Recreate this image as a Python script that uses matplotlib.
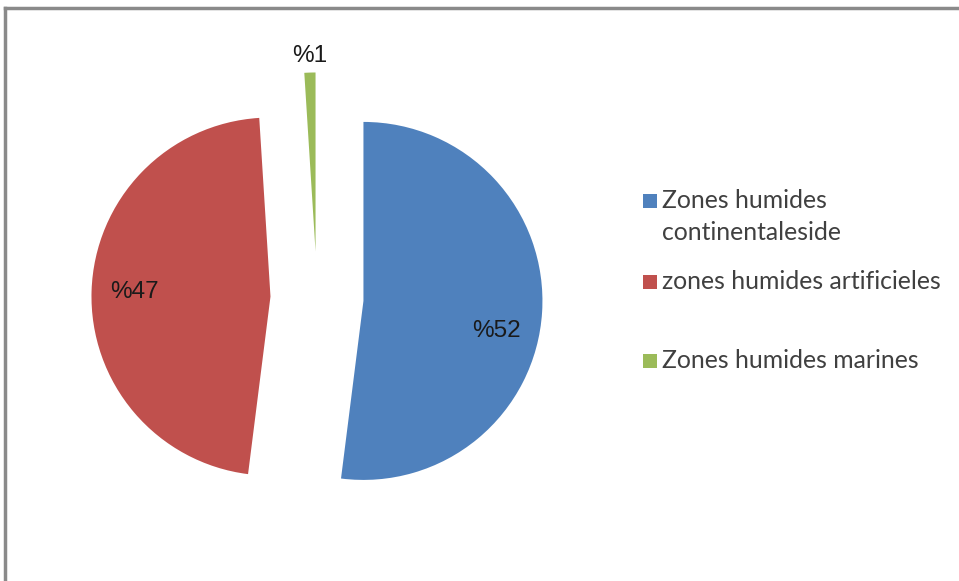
import matplotlib
matplotlib.use("Agg")
import matplotlib.pyplot as plt
from matplotlib.patches import Rectangle
import numpy as np

categories = ["Zones humides\ncontinentaleside", "zones humides artificieles", "Zones humides marines"]
values = [52, 47, 1]
pct_labels = ["%52", "%47", "%1"]
colors = ["#4F81BD", "#C0504D", "#9BBB59"]

W, H = 959, 581
fig = plt.figure(figsize=(W / 100, H / 100), dpi=100)

# pie axes: centre at pixel (317, 298), radius 179 px
cx, cy, R = 317, 298, 179
hw, hh = 290, 280
ax = fig.add_axes([(cx - hw) / W, (H - (cy + hh)) / H, 2 * hw / W, 2 * hh / H])
wedges, _ = ax.pie(values, colors=colors, startangle=90, counterclock=False,
                   explode=[0.26, 0.26, 0.26], radius=1.0,
                   wedgeprops=dict(linewidth=0))
ax.set_xlim(-hw / R, hw / R)
ax.set_ylim(-hh / R, hh / R)
ax.set_aspect("auto")

# percentage labels
label_dist = [0.76, 0.76, 1.09]
label_shift = [-9, 0, 0]
for w, lab, d, sh in zip(wedges, pct_labels, label_dist, label_shift):
    ang = np.deg2rad((w.theta1 + w.theta2) / 2 + sh)
    x = w.center[0] + d * np.cos(ang)
    y = w.center[1] + d * np.sin(ang)
    ax.text(x, y, lab, ha="center", va="center", fontsize=17.5,
            family="Liberation Sans", color="#1a1a1a")

# legend (manual placement)
leg_y = [201, 282, 361]
line_gap = 31
sq = 14
for lab, col, y in zip(categories, colors, leg_y):
    fig.patches.append(Rectangle(((650 - sq / 2) / W, (H - y - sq / 2) / H), sq / W, sq / H,
                                 transform=fig.transFigure, facecolor=col,
                                 edgecolor="none"))
    for i, line in enumerate(lab.split("\n")):
        fig.text(662 / W, (H - y - i * line_gap) / H, line, ha="left", va="center",
                 fontsize=17.8, family="Lato", color="#404040")

# frame
fig.add_artist(plt.Line2D([5 / W, 5 / W], [0, (H - 8) / H], color="#8a8a8a", lw=2.5,
                          transform=fig.transFigure))
fig.add_artist(plt.Line2D([5 / W, 1], [(H - 8) / H, (H - 8) / H], color="#8a8a8a", lw=2.5,
                          transform=fig.transFigure))

fig.savefig("out.png", dpi=100)
